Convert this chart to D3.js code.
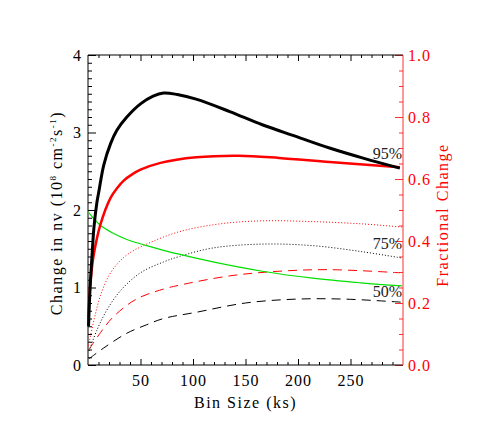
<!DOCTYPE html>
<html>
<head>
<meta charset="utf-8">
<script src="https://cdn.jsdelivr.net/npm/d3@7"></script>
<style>
  body { margin: 0; background: #fff; }
</style>
</head>
<body>
<div class="chart"></div>
<script>
// bin sizes (ks) and values
// black + green curves -> left axis (change in nv), red curves -> right axis (fraction)
var solid95Bins = [0.5, 2, 4, 5.7, 8.5, 10.5, 15, 21.6, 27.5, 37, 50, 62, 72, 85, 103, 135, 166, 198, 230, 262, 297];
var solid95Nv = [0.5, 1.0, 1.45, 1.78, 2.1, 2.25, 2.58, 2.86, 3.03, 3.2, 3.37, 3.47, 3.51, 3.49, 3.43, 3.27, 3.1, 2.95, 2.8, 2.67, 2.54];

var red95Bins = [0.5, 1, 3, 5.7, 12, 21.6, 28, 34, 42, 50, 69, 103, 144, 182, 230, 297];
var red95Frac = [0.15, 0.2, 0.29, 0.36, 0.455, 0.54, 0.572, 0.595, 0.615, 0.63, 0.652, 0.67, 0.675, 0.668, 0.655, 0.638];

var dot75Bins = [1, 8.5, 18, 31, 50, 72, 87, 119, 166, 214, 262, 299];
var dot75Nv = [0.18, 0.45, 0.71, 0.96, 1.19, 1.33, 1.4, 1.51, 1.56, 1.54, 1.46, 1.38];

var red75Bins = [0.5, 5.7, 12, 22, 37, 58, 87, 125, 166, 214, 262, 299];
var red75Frac = [0.0625, 0.145, 0.225, 0.3, 0.355, 0.393, 0.43, 0.455, 0.465, 0.4625, 0.455, 0.445];

var dash50Bins = [1, 15, 37, 56, 72, 103, 150, 198, 245, 299];
var dash50Nv = [0.08, 0.22, 0.41, 0.52, 0.6, 0.68, 0.8, 0.85, 0.85, 0.81];

var red50Bins = [1, 12, 24, 46, 72, 87, 135, 182, 230, 297];
var red50Frac = [0.05, 0.105, 0.155, 0.2125, 0.245, 0.2575, 0.2875, 0.3025, 0.3075, 0.2975];

var greenBins = [0.5, 12, 24, 37, 56, 72, 87, 119, 166, 214, 260, 299];
var greenNv = [1.97, 1.8, 1.7, 1.62, 1.54, 1.48, 1.43, 1.33, 1.21, 1.12, 1.06, 1.02];

var xTicks = [50, 100, 150, 200, 250];
var yTicks = [0, 1, 2, 3, 4];
var fracTicks = [0, 0.2, 0.4, 0.6, 0.8, 1.0];
var pctLabels = ["95%", "75%", "50%"];
var pctNv = [2.66, 1.5, 0.88];

var svgWidth = 491, svgHeight = 423;
var margin = { top: 55, right: 88, bottom: 58, left: 88 };
var width = svgWidth - margin.left - margin.right;
var height = svgHeight - margin.top - margin.bottom;
var serif = "'Liberation Serif', 'Times New Roman', serif";

var svg = d3.select(".chart").append("svg")
    .attr("width", svgWidth)
    .attr("height", svgHeight);

var chartGroup = svg.append("g")
    .attr("transform", `translate(${margin.left}, ${margin.top})`);

var xScale = d3.scaleLinear().domain([0, 300]).range([0, width]);
var yScale = d3.scaleLinear().domain([0, 4]).range([height, 0]);
var fracScale = d3.scaleLinear().domain([0, 1]).range([height, 0]);

// helper: zip two arrays into points
function pts(xs, ys) {
    return xs.map(function(x, i) { return { x: x, y: ys[i] }; });
}

var lineNv = d3.line()
    .x(d => xScale(d.x))
    .y(d => yScale(d.y))
    .curve(d3.curveCatmullRom.alpha(0.5));
var lineFrac = d3.line()
    .x(d => xScale(d.x))
    .y(d => fracScale(d.y))
    .curve(d3.curveCatmullRom.alpha(0.5));

// axes: ticks point inside the box
var minorX = d3.range(10, 300, 10).filter(v => v % 50 !== 0);

// bottom
chartGroup.append("g")
    .attr("transform", `translate(0, ${height})`)
    .call(d3.axisBottom(xScale).tickValues(minorX).tickFormat("").tickSizeInner(-3).tickSizeOuter(0))
    .call(g => g.select(".domain").remove());
chartGroup.append("g")
    .attr("transform", `translate(0, ${height})`)
    .call(d3.axisBottom(xScale).tickValues(xTicks).tickSizeInner(-6).tickSizeOuter(0).tickPadding(10))
    .call(g => g.select(".domain").remove());

// top
chartGroup.append("g")
    .call(d3.axisTop(xScale).tickValues(minorX).tickFormat("").tickSizeInner(-3).tickSizeOuter(0))
    .call(g => g.select(".domain").remove());
chartGroup.append("g")
    .call(d3.axisTop(xScale).tickValues(xTicks).tickFormat("").tickSizeInner(-6).tickSizeOuter(0))
    .call(g => g.select(".domain").remove());

// left
chartGroup.append("g")
    .call(d3.axisLeft(yScale).tickValues(d3.range(1, 40).filter(v => v % 10 !== 0).map(v => v / 10)).tickFormat("").tickSizeInner(-4).tickSizeOuter(0))
    .call(g => g.select(".domain").remove());
chartGroup.append("g")
    .call(d3.axisLeft(yScale).tickValues(yTicks).tickFormat(d3.format("d")).tickSizeInner(-8).tickSizeOuter(0).tickPadding(6))
    .call(g => g.select(".domain").remove());

// right (red)
var rightMinor = chartGroup.append("g")
    .attr("transform", `translate(${width}, 0)`)
    .call(d3.axisRight(fracScale).tickValues(d3.range(1, 20).filter(v => v % 4 !== 0).map(v => v / 20)).tickFormat("").tickSizeInner(-4).tickSizeOuter(0));
rightMinor.select(".domain").remove();
var rightAxis = chartGroup.append("g")
    .attr("transform", `translate(${width}, 0)`)
    .call(d3.axisRight(fracScale).tickValues(fracTicks).tickFormat(d3.format(".1f")).tickSizeInner(-8).tickSizeOuter(0).tickPadding(5));
rightAxis.select(".domain").remove();
rightMinor.selectAll("line").attr("stroke", "#ff3030");
rightAxis.selectAll("line").attr("stroke", "#ff3030");
rightAxis.selectAll("text").attr("fill", "#ff0000");

svg.selectAll(".tick text")
    .style("font-family", serif)
    .style("font-size", "16px")
    .style("letter-spacing", "1px");
svg.selectAll("g").attr("font-family", null);

// frame
chartGroup.append("path")
    .attr("d", `M${width},0 H0 V${height} H${width}`)
    .attr("fill", "none")
    .attr("stroke", "#000")
    .attr("stroke-width", 1);
chartGroup.append("line")
    .attr("x1", width).attr("x2", width)
    .attr("y1", 0).attr("y2", height)
    .attr("stroke", "#ff3030")
    .attr("stroke-width", 1);

// curves
var curves = [
    { d: pts(dash50Bins, dash50Nv), line: lineNv, color: "#000", w: 1, dash: "9,6" },
    { d: pts(red50Bins, red50Frac), line: lineFrac, color: "#ff0000", w: 1, dash: "9,6" },
    { d: pts(dot75Bins, dot75Nv), line: lineNv, color: "#000", w: 1, dash: "1,2" },
    { d: pts(red75Bins, red75Frac), line: lineFrac, color: "#ff0000", w: 1, dash: "1,2" },
    { d: pts(greenBins, greenNv), line: lineNv, color: "#00e000", w: 1.2, dash: null },
    { d: pts(red95Bins, red95Frac), line: lineFrac, color: "#ff0000", w: 2.5, dash: null },
    { d: pts(solid95Bins, solid95Nv), line: lineNv, color: "#000", w: 3, dash: null }
];

curves.forEach(function(c) {
    chartGroup.append("path")
        .datum(c.d)
        .attr("d", c.line)
        .attr("fill", "none")
        .attr("stroke", c.color)
        .attr("stroke-width", c.w)
        .attr("stroke-dasharray", c.dash);
});

// percentage labels
chartGroup.selectAll(".pct")
    .data(pctLabels)
    .enter()
    .append("text")
    .attr("class", "pct")
    .attr("x", width - 1)
    .attr("y", (d, i) => yScale(pctNv[i]))
    .attr("text-anchor", "end")
    .attr("fill", "#222")
    .style("font-family", serif)
    .style("font-size", "16px")
    .text(d => d);

// axis titles
svg.append("text")
    .attr("x", margin.left + width / 2)
    .attr("y", 408)
    .attr("text-anchor", "middle")
    .style("font-family", serif)
    .style("font-size", "16px")
    .style("letter-spacing", "1.5px")
    .text("Bin Size (ks)");

var yTitle = svg.append("text")
    .attr("transform", `translate(62, ${margin.top + height / 2 + 3}) rotate(-90)`)
    .attr("text-anchor", "middle")
    .style("font-family", serif)
    .style("font-size", "16px")
    .style("letter-spacing", "1.5px");
yTitle.append("tspan").text("Change in nv (10");
yTitle.append("tspan").attr("dy", -6).style("font-size", "9px").text("8");
yTitle.append("tspan").attr("dy", 6).text(" cm");
yTitle.append("tspan").attr("dy", -6).style("font-size", "9px").text("-2");
yTitle.append("tspan").attr("dy", 6).text("s");
yTitle.append("tspan").attr("dy", -6).style("font-size", "9px").text("-1");
yTitle.append("tspan").attr("dy", 6).text(")");

svg.append("text")
    .attr("transform", `translate(448, ${margin.top + height / 2 + 5}) rotate(-90)`)
    .attr("text-anchor", "middle")
    .attr("fill", "#ff0000")
    .style("font-family", serif)
    .style("font-size", "16px")
    .style("letter-spacing", "1.5px")
    .text("Fractional Change");
</script>
</body>
</html>
